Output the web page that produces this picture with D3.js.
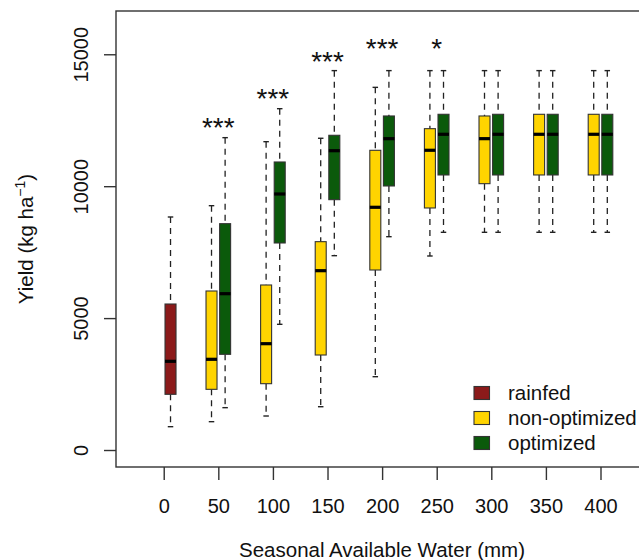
<!DOCTYPE html>
<html>
<head>
<meta charset="utf-8">
<script src="https://cdn.jsdelivr.net/npm/d3@7"></script>
<style>
  body { margin: 0; background: #fff; }
  svg { display: block; font-family: "Liberation Sans", Arial, Helvetica, sans-serif; }
</style>
</head>
<body>
<svg id="chart" width="639" height="560"></svg>
<script>
// water levels on the x axis (mm)
var waterTicks = [0, 50, 100, 150, 200, 250, 300, 350, 400];
var yTicks = [0, 5000, 10000, 15000];

// box stats: [water, whiskerLow, q1, median, q3, whiskerHigh]
var rainfedStats = [
    [0, 884, 2111, 3362, 5534, 8832]
];
var nonOptStats = [
    [50, 1074, 2300, 3438, 6027, 9261],
    [100, 1289, 2514, 4030, 6255, 11687],
    [150, 1641, 3601, 6797, 7897, 11816],
    [200, 2779, 6823, 9200, 11360, 13746],
    [250, 7354, 9174, 11361, 12180, 14380],
    [300, 8252, 10095, 11801, 12661, 14380],
    [350, 8252, 10425, 11967, 12725, 14380],
    [400, 8252, 10425, 11967, 12725, 14380]
];
var optStats = [
    [50, 1605, 3627, 5925, 8579, 11839],
    [100, 4764, 7847, 9704, 10917, 12938],
    [150, 7366, 9489, 11345, 11929, 14380],
    [200, 8086, 10008, 11801, 12661, 14380],
    [250, 8252, 10425, 11967, 12725, 14380],
    [300, 8252, 10425, 11967, 12725, 14380],
    [350, 8252, 10425, 11967, 12725, 14380],
    [400, 8252, 10425, 11967, 12725, 14380]
];

// significance labels
var sigWater = [50, 100, 150, 200, 250];
var sigLabels = ["***", "***", "***", "***", "*"];
var sigValues = [11868, 12948, 14350, 14843, 14843];

var seriesNames = ["rainfed", "non-optimized", "optimized"];
var seriesColors = ["#8b1a1a", "#ffd400", "#0b5a0b"];

window.onload = function() {

    var frame = {left: 116, right: 648, top: 11, bottom: 467};
    var svg = d3.select("#chart");

    var x = d3.scaleLinear()
        .domain([-43.7, 443.5])
        .range([frame.left, frame.right]);

    var y = d3.scaleLinear()
        .domain([-644, 16640])
        .range([frame.bottom, frame.top]);

    var boxW = 11;
    var off = 6.8;

    // frame
    svg.append("rect")
        .attr("x", frame.left)
        .attr("y", frame.top)
        .attr("width", frame.right - frame.left)
        .attr("height", frame.bottom - frame.top)
        .style("fill", "none")
        .style("stroke", "#333")
        .style("stroke-width", 1.4);

    // x axis
    var xAxis = svg.append("g")
        .attr("transform", "translate(0," + frame.bottom + ")")
        .call(d3.axisBottom(x).tickValues(waterTicks).tickSize(13).tickPadding(19).tickFormat(d3.format("d")));
    xAxis.select(".domain").remove();
    xAxis.selectAll("line").style("stroke", "#333").style("stroke-width", 1.4);
    xAxis.selectAll("text")
        .attr("font-family", "Liberation Sans, Arial, sans-serif")
        .attr("font-size", "20px")
        .style("fill", "#111");

    // y axis
    var yAxis = svg.append("g")
        .attr("transform", "translate(" + frame.left + ",0)")
        .call(d3.axisLeft(y).tickValues(yTicks).tickSize(12).tickFormat(d3.format("d")));
    yAxis.select(".domain").remove();
    yAxis.selectAll("line").style("stroke", "#333").style("stroke-width", 1.4);
    yAxis.selectAll("text").remove();
    yAxis.selectAll(".tick")
        .append("text")
        .attr("transform", "translate(-28,0) rotate(-90)")
        .attr("text-anchor", "middle")
        .attr("font-family", "Liberation Sans, Arial, sans-serif")
        .attr("font-size", "20px")
        .style("fill", "#111")
        .text(function(d) { return d; });

    // boxes
    function drawBoxes(data, dx, color) {
        var g = svg.append("g");
        var groups = g.selectAll("g")
            .data(data)
            .enter()
            .append("g")
            .attr("transform", function(d) { return "translate(" + (x(d[0]) + dx) + ",0)"; });

        groups.append("line")
            .attr("x1", 0).attr("x2", 0)
            .attr("y1", function(d) { return y(d[5]); })
            .attr("y2", function(d) { return y(d[4]); })
            .style("stroke", "#222")
            .style("stroke-width", 1.3)
            .style("stroke-dasharray", "6,5");
        groups.append("line")
            .attr("x1", 0).attr("x2", 0)
            .attr("y1", function(d) { return y(d[2]); })
            .attr("y2", function(d) { return y(d[1]); })
            .style("stroke", "#222")
            .style("stroke-width", 1.3)
            .style("stroke-dasharray", "6,5");

        // staples
        groups.append("line")
            .attr("x1", -boxW / 4).attr("x2", boxW / 4)
            .attr("y1", function(d) { return y(d[5]); })
            .attr("y2", function(d) { return y(d[5]); })
            .style("stroke", "#222")
            .style("stroke-width", 1.4);
        groups.append("line")
            .attr("x1", -boxW / 4).attr("x2", boxW / 4)
            .attr("y1", function(d) { return y(d[1]); })
            .attr("y2", function(d) { return y(d[1]); })
            .style("stroke", "#222")
            .style("stroke-width", 1.4);

        groups.append("rect")
            .attr("x", -boxW / 2)
            .attr("width", boxW)
            .attr("y", function(d) { return y(d[4]); })
            .attr("height", function(d) { return y(d[2]) - y(d[4]); })
            .style("fill", color)
            .style("stroke", "#333")
            .style("stroke-width", 1.1);

        groups.append("line")
            .attr("x1", -boxW / 2).attr("x2", boxW / 2)
            .attr("y1", function(d) { return y(d[3]); })
            .attr("y2", function(d) { return y(d[3]); })
            .style("stroke", "#000")
            .style("stroke-width", 3.2);
    }

    drawBoxes(rainfedStats, off, seriesColors[0]);
    drawBoxes(nonOptStats, -off, seriesColors[1]);
    drawBoxes(optStats, off, seriesColors[2]);

    // significance stars
    svg.selectAll(".sig")
        .data(sigWater)
        .enter()
        .append("text")
        .attr("class", "sig")
        .attr("x", function(d) { return x(d); })
        .attr("y", function(d, i) { return y(sigValues[i]); })
        .attr("text-anchor", "middle")
        .attr("font-size", "28px")
        .style("fill", "#111")
        .text(function(d, i) { return sigLabels[i]; });

    // legend
    var legend = svg.append("g");
    seriesNames.forEach(function(name, i) {
        legend.append("rect")
            .attr("x", 474)
            .attr("y", 386.5 + i * 25)
            .attr("width", 15.5)
            .attr("height", 13)
            .style("fill", seriesColors[i])
            .style("stroke", "#333")
            .style("stroke-width", 1.1);
        legend.append("text")
            .attr("x", 508)
            .attr("y", 400 + i * 25)
            .attr("font-size", "20.5px")
            .style("fill", "#111")
            .text(name);
    });

    // x axis label
    svg.append("text")
        .attr("x", 382)
        .attr("y", 557)
        .attr("text-anchor", "middle")
        .attr("font-size", "20.5px")
        .style("fill", "#111")
        .text("Seasonal Available Water (mm)");

    // y axis label
    var yl = svg.append("text")
        .attr("transform", "translate(33,239) rotate(-90)")
        .attr("text-anchor", "middle")
        .attr("font-size", "20.5px")
        .style("fill", "#111");
    yl.append("tspan").text("Yield (kg ha");
    yl.append("tspan").attr("dy", -8).attr("font-size", "14px").text("\u22121");
    yl.append("tspan").attr("dy", 8).text(")");
};
</script>
</body>
</html>
